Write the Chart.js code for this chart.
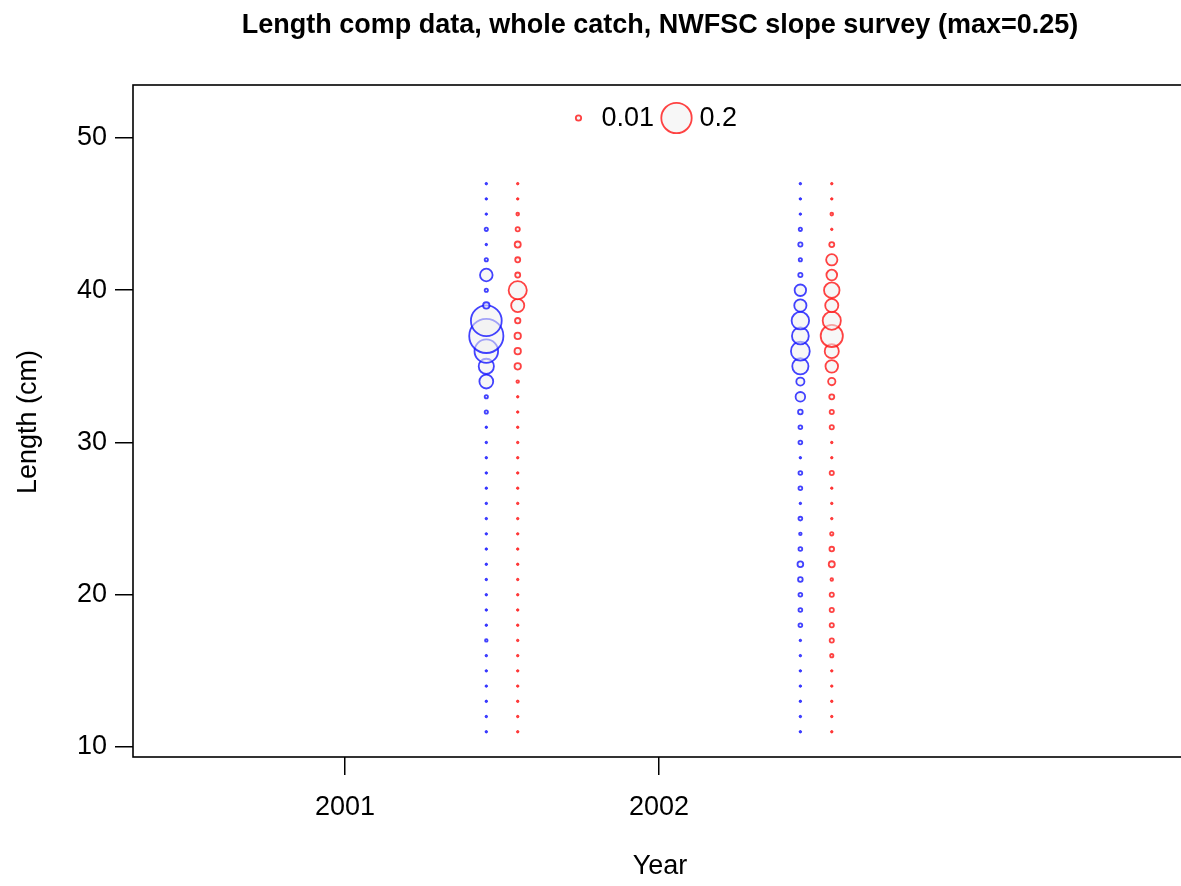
<!DOCTYPE html>
<html>
<head>
<meta charset="utf-8">
<script src="https://cdn.jsdelivr.net/npm/chart.js@4/dist/chart.umd.min.js"></script>
<style>
  html, body { margin: 0; padding: 0; background: #fff; }
  #wrap { width: 1181px; height: 886px; }
</style>
</head>
<body>
<div id="wrap"><canvas id="bubbles" width="1181" height="886"></canvas></div>
<script>
// length bins (cm), bottom to top
const lengths = [11, 12, 13, 14, 15, 16, 17, 18, 19, 20, 21, 22, 23, 24, 25, 26, 27, 28, 29,
  30, 31, 32, 33, 34, 35, 36, 37, 38, 39, 40, 41, 42, 43, 44, 45, 46, 47]

const years = [2001, 2002]
const yearTicks = [2001, 2002]
const lengthTicks = [10, 20, 30, 40, 50]

// proportions per length bin, same order as lengths
const female2001 = [0, 0, 0, 0, 0, 0, 0.002, 0, 0, 0, 0, 0, 0, 0, 0, 0, 0, 0, 0,
  0, 0, 0.005, 0.005, 0.047, 0.056, 0.124, 0.25, 0.205, 0.013, 0.005, 0.04, 0.005, 0, 0.005, 0, 0, 0]
const male2001 = [0, 0, 0, 0, 0, 0, 0, 0, 0, 0, 0, 0, 0, 0, 0, 0, 0, 0, 0,
  0, 0, 0, 0, 0.003, 0.013, 0.013, 0.013, 0.01, 0.043, 0.077, 0.009, 0.009, 0.012, 0.007, 0.004, 0, 0]
const female2002 = [0, 0, 0, 0, 0, 0, 0, 0.006, 0.006, 0.006, 0.008, 0.011, 0.006, 0.002, 0.006, 0, 0.006, 0.006, 0,
  0.006, 0.006, 0.008, 0.025, 0.019, 0.0625, 0.082, 0.067, 0.072, 0.038, 0.034, 0.007, 0.005, 0.007, 0.005, 0, 0, 0]
const male2002 = [0, 0, 0, 0, 0, 0.005, 0.007, 0.007, 0.007, 0.007, 0.002, 0.012, 0.008, 0.005, 0, 0, 0, 0.007, 0,
  0, 0.007, 0.007, 0.009, 0.016, 0.04, 0.049, 0.111, 0.077, 0.043, 0.058, 0.03, 0.033, 0.009, 0, 0.004, 0, 0]

const legendValues = [0.01, 0.2]
const legendLabels = ['0.01', '0.2']

const blue = 'rgba(20,20,255,0.8)'
const red = 'rgba(255,20,20,0.8)'
const bubbleFill = 'rgba(240,240,240,0.55)'
const font = 'Liberation Sans, Arial, sans-serif'

// bubble radius in px, area proportional to the value
const radius = v => v > 0 ? Math.max(1.3, 36 * Math.sqrt(v) - 0.9) : 1.2

const points = (year, offset, vals) => vals.map((v, i) => ({ x: year + offset, y: lengths[i], r: radius(v), v: v }))

const series = (label, pts, col) => ({
  label: label,
  data: pts,
  borderColor: col,
  borderWidth: c => (c.raw && c.raw.v > 0 ? 1.8 : 1),
  backgroundColor: c => (c.raw && c.raw.v > 0 ? bubbleFill : col)
})

const textPlugin = {
  id: 'texts',
  afterDraw(chart) {
    const ctx = chart.ctx
    const a = chart.chartArea
    ctx.save()
    ctx.strokeStyle = '#000'
    ctx.lineWidth = 1.6
    ctx.strokeRect(a.left, a.top, a.right - a.left + 2, a.bottom - a.top)

    ctx.fillStyle = '#000'
    ctx.textAlign = 'center'
    ctx.textBaseline = 'middle'
    ctx.font = 'bold 27px ' + font
    ctx.fillText('Length comp data, whole catch, NWFSC slope survey (max=0.25)', 660, 26)
    ctx.font = '27px ' + font
    ctx.fillText('Year', 660, 867)
    ctx.translate(29, 422)
    ctx.rotate(-Math.PI / 2)
    ctx.fillText('Length (cm)', 0, 0)
    ctx.restore()

    // size legend
    ctx.save()
    ctx.font = '27px ' + font
    ctx.textBaseline = 'middle'
    ctx.textAlign = 'left'
    const xs = [578.5, 676.5]
    legendValues.forEach((v, i) => {
      ctx.beginPath()
      ctx.arc(xs[i], 118, radius(v), 0, Math.PI * 2)
      ctx.fillStyle = bubbleFill
      ctx.fill()
      ctx.strokeStyle = red
      ctx.lineWidth = 1.8
      ctx.stroke()
      ctx.fillStyle = '#000'
      ctx.fillText(legendLabels[i], xs[i] + 23, 119)
    })
    ctx.restore()
  }
}

new Chart(document.getElementById('bubbles'), {
  type: 'bubble',
  data: {
    datasets: [
      series('2001 blue', points(years[0], 0.45, female2001), blue),
      series('2001 red', points(years[0], 0.55, male2001), red),
      series('2002 blue', points(years[1], 0.45, female2002), blue),
      series('2002 red', points(years[1], 0.55, male2002), red)
    ]
  },
  options: {
    responsive: false,
    animation: false,
    events: [],
    layout: { autoPadding: false, padding: { top: 85, left: 0, right: 0, bottom: 0 } },
    plugins: { legend: { display: false }, tooltip: { enabled: false }, title: { display: false } },
    scales: {
      x: {
        type: 'linear',
        min: 2000.325,
        max: 2003.662,
        afterBuildTicks: s => { s.ticks = yearTicks.map(v => ({ value: v })) },
        afterFit: s => { s.height = 129; s.paddingLeft = 0; s.paddingRight = 0 },
        grid: { drawOnChartArea: false, tickLength: 18, color: '#000', lineWidth: 1.5 },
        border: { display: false },
        ticks: { color: '#000', font: { family: font, size: 27 }, padding: 16, maxRotation: 0, autoSkip: false,
          callback: v => String(v) }
      },
      y: {
        type: 'linear',
        min: 9.343,
        max: 53.48,
        afterBuildTicks: s => { s.ticks = lengthTicks.map(v => ({ value: v })) },
        afterFit: s => { s.width = 133; s.paddingTop = 0; s.paddingBottom = 0 },
        grid: { drawOnChartArea: false, tickLength: 18, color: '#000', lineWidth: 1.5 },
        border: { display: false },
        ticks: { color: '#000', font: { family: font, size: 27 }, padding: 8 }
      }
    }
  },
  plugins: [textPlugin]
})
</script>
</body>
</html>
